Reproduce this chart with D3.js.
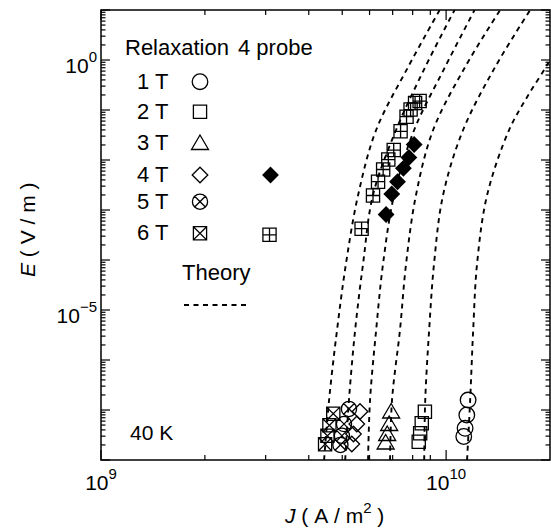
<!DOCTYPE html>
<html><head><meta charset="utf-8">
<script src="https://cdn.jsdelivr.net/npm/d3@7"></script>
<style>
body{margin:0;background:#fff}
svg{display:block}
text{font-family:"Liberation Sans",Arial,Helvetica,sans-serif;fill:#000}
</style>
</head><body>
<svg id="chart" width="551" height="528"></svg>
<script>
// ---------- data (J in A/m^2, E in V/m) ----------
const relaxJ_1T = [1.158e10, 1.148e10, 1.135e10, 1.125e10];
const relaxE_1T = [1.58e-7, 7.94e-8, 4.3e-8, 2.95e-8];
const relaxJ_2T = [8.68e9, 8.50e9, 8.41e9, 8.33e9];
const relaxE_2T = [9.25e-8, 5.42e-8, 3.42e-8, 2.32e-8];
const relaxJ_3T = [6.93e9, 6.84e9, 6.75e9, 6.68e9];
const relaxE_3T = [9.33e-8, 5.25e-8, 3.31e-8, 2.24e-8];
const relaxJ_4T = [5.63e9, 5.51e9, 5.39e9, 5.33e9];
const relaxE_4T = [9.33e-8, 5.25e-8, 3.31e-8, 2.09e-8];
const relaxJ_5T = [5.23e9, 5.06e9, 4.99e9, 4.94e9];
const relaxE_5T = [1.05e-7, 5.25e-8, 3.05e-8, 2.0e-8];
const relaxJ_6T = [4.71e9, 4.59e9, 4.53e9, 4.46e9];
const relaxE_6T = [8.43e-8, 4.94e-8, 3.05e-8, 2.07e-8];

const probeJ_4T = [6.70e9, 6.96e9, 7.23e9, 7.52e9, 7.80e9, 8.08e9];
const probeE_4T = [8.13e-4, 2.09e-3, 3.68e-3, 6.82e-3, 1.12e-2, 2.04e-2];
const probeJ_6T = [5.69e9, 6.14e9, 6.35e9, 6.57e9, 6.80e9, 7.05e9, 7.38e9, 7.68e9, 7.89e9, 8.13e9, 8.38e9];
const probeE_6T = [4.23e-4, 1.95e-3, 3.68e-3, 6.46e-3, 1.02e-2, 1.58e-2, 3.75e-2, 7.35e-2, 0.102, 0.138, 0.151];

const theoryE = [1e-8, 1.58e-7, 3.98e-6, 8.7e-5, 2.0e-3, 3.98e-2, 0.724, 10];
const theoryJ_1 = [4.43e9, 4.58e9, 4.83e9, 5.13e9, 5.56e9, 6.27e9, 7.76e9, 9.58e9];
const theoryJ_2 = [5.10e9, 5.23e9, 5.45e9, 5.75e9, 6.14e9, 7.16e9, 8.70e9, 1.058e10];
const theoryJ_3 = [5.94e9, 6.02e9, 6.27e9, 6.57e9, 7.07e9, 8.08e9, 9.93e9, 1.209e10];
const theoryJ_4 = [6.88e9, 6.97e9, 7.35e9, 7.66e9, 8.18e9, 9.17e9, 1.135e10, 1.434e10];
const theoryJ_5 = [8.64e9, 8.70e9, 8.93e9, 9.23e9, 9.80e9, 1.12e10, 1.387e10, 1.752e10];
const theoryE_6 = [1e-8, 1.58e-7, 3.98e-6, 8.7e-5, 2.0e-3, 3.98e-2, 0.182, 0.87, 2.51];
const theoryJ_6 = [1.150e10, 1.174e10, 1.198e10, 1.230e10, 1.315e10, 1.522e10, 1.717e10, 1.976e10, 2.14e10];

const xMajorTicks = [1e9, 1e10];
const xMinorTicks = [2e9, 3e9, 4e9, 5e9, 6e9, 7e9, 8e9, 9e9];
const xTickLabels = [{base: "10", exp: "9", v: 1e9}, {base: "10", exp: "10", v: 1e10}];
const yDecades = [1e-8, 1e-7, 1e-6, 1e-5, 1e-4, 1e-3, 1e-2, 1e-1, 1e0, 1e1];
const yTickLabels = [{base: "10", exp: "0", v: 1e0}, {base: "10", exp: "\u22125", v: 1e-5}];
const legendFields = ["1 T", "2 T", "3 T", "4 T", "5 T", "6 T"];

// ---------- layout ----------
const L = 101, R = 550, T = 10, B = 460;
const svg = d3.select("#chart");
const x = d3.scaleLog().domain([1e9, 2e10]).range([L, R]);
const y = d3.scaleLog().domain([1e-8, 10]).range([B, T]);
const FS = 22;

// ---------- shapes ----------
function shape(type) {
  const r = 7.5, h = 6.6, d = 7.8, k = 0.7071;
  const circ = (rr) => `M${rr},0A${rr},${rr} 0 1 1 ${-rr},0A${rr},${rr} 0 1 1 ${rr},0Z`;
  const sq = (hh) => `M${-hh},${-hh}H${hh}V${hh}H${-hh}Z`;
  switch (type) {
    case "circle": return circ(r + 0.3);
    case "square": return sq(h);
    case "triangle": return "M0,-8L8.5,6.5L-8.5,6.5Z";
    case "diamond": return `M0,${-d}L${d},0L0,${d}L${-d},0Z`;
    case "circleX": { const rr = 7.6, a = rr * k; return circ(rr) + `M${-a},${-a}L${a},${a}M${a},${-a}L${-a},${a}`; }
    case "squareX": return sq(h) + `M${-h},${-h}L${h},${h}M${h},${-h}L${-h},${h}`;
    case "squarePlus": return sq(h) + `M0,${-h}V${h}M${-h},0H${h}`;
    case "diamondFill": return `M0,-7.5L7.5,0L0,7.5L-7.5,0Z`;
  }
}

const series = [
  {J: relaxJ_1T, E: relaxE_1T, sym: "circle"},
  {J: relaxJ_2T, E: relaxE_2T, sym: "square"},
  {J: relaxJ_3T, E: relaxE_3T, sym: "triangle"},
  {J: relaxJ_4T, E: relaxE_4T, sym: "diamond"},
  {J: relaxJ_5T, E: relaxE_5T, sym: "circleX"},
  {J: relaxJ_6T, E: relaxE_6T, sym: "squareX"},
  {J: probeJ_6T, E: probeE_6T, sym: "squarePlus"},
  {J: probeJ_4T, E: probeE_4T, sym: "diamondFill"}
];
const theory = [
  {J: theoryJ_1, E: theoryE}, {J: theoryJ_2, E: theoryE}, {J: theoryJ_3, E: theoryE},
  {J: theoryJ_4, E: theoryE}, {J: theoryJ_5, E: theoryE}, {J: theoryJ_6, E: theoryE_6}
];

// clip
svg.append("defs").append("clipPath").attr("id", "plotclip")
  .append("rect").attr("x", L).attr("y", T).attr("width", R - L).attr("height", B - T);

// ---------- theory curves ----------
const line = d3.line().x(d => x(d[0])).y(d => y(d[1])).curve(d3.curveCatmullRom.alpha(0.5));
svg.append("g").attr("clip-path", "url(#plotclip)")
  .selectAll("path").data(theory).join("path")
  .attr("d", c => line(c.J.map((j, i) => [j, c.E[i]])))
  .attr("fill", "none").attr("stroke", "#000").attr("stroke-width", 1.9)
  .attr("stroke-dasharray", "5,4.5");

// ---------- markers ----------
const mg = svg.append("g");
series.forEach(s => {
  mg.append("g").selectAll("path").data(s.J.map((j, i) => [j, s.E[i]])).join("path")
    .attr("transform", d => `translate(${x(d[0])},${y(d[1])})`)
    .attr("d", shape(s.sym))
    .attr("fill", s.sym === "diamondFill" ? "#000" : "none")
    .attr("stroke", "#000").attr("stroke-width", 1.3);
});

// ---------- frame & ticks ----------
const ax = svg.append("g").attr("stroke", "#000").attr("stroke-width", 1.2);
xMajorTicks.forEach(v => {
  ax.append("line").attr("x1", x(v)).attr("x2", x(v)).attr("y1", B).attr("y2", B - 10);
  ax.append("line").attr("x1", x(v)).attr("x2", x(v)).attr("y1", T).attr("y2", T + 10);
});
const xMinAll = xMinorTicks.concat(xMinorTicks.map(v => v * 10)).filter(v => v < 2e10);
xMinAll.forEach(v => {
  ax.append("line").attr("x1", x(v)).attr("x2", x(v)).attr("y1", B).attr("y2", B - 5);
  ax.append("line").attr("x1", x(v)).attr("x2", x(v)).attr("y1", T).attr("y2", T + 5);
});
yDecades.forEach(v => {
  ax.append("line").attr("x1", L).attr("x2", L + 9).attr("y1", y(v)).attr("y2", y(v));
  ax.append("line").attr("x1", R).attr("x2", R - 9).attr("y1", y(v)).attr("y2", y(v));
  if (v < 10) {
    for (let m = 2; m <= 9; m++) {
      const t = v * m;
      ax.append("line").attr("x1", L).attr("x2", L + 4.5).attr("y1", y(t)).attr("y2", y(t));
      ax.append("line").attr("x1", R).attr("x2", R - 4.5).attr("y1", y(t)).attr("y2", y(t));
    }
  }
});
svg.append("rect").attr("x", L).attr("y", T).attr("width", R - L).attr("height", B - T)
  .attr("fill", "none").attr("stroke", "#000").attr("stroke-width", 1.5);

// ---------- tick labels ----------
xTickLabels.forEach(t => {
  const tx = svg.append("text").attr("x", x(t.v)).attr("y", B + 30).attr("text-anchor", "middle").attr("font-size", FS - 1);
  tx.append("tspan").text(t.base);
  tx.append("tspan").attr("dy", -11).attr("font-size", 15).text(t.exp);
});
yTickLabels.forEach(t => {
  const tx = svg.append("text").attr("x", L - 4).attr("y", y(t.v) + 12.5).attr("text-anchor", "end").attr("font-size", FS - 1);
  tx.append("tspan").text(t.base);
  tx.append("tspan").attr("dy", -11).attr("font-size", 15).text(t.exp);
});

// ---------- axis titles ----------
const xt = svg.append("text").attr("x", 285).attr("y", 523).attr("font-size", FS - 1);
xt.append("tspan").attr("font-style", "italic").text("J");
xt.append("tspan").text("\u00a0(\u00a0A\u00a0/\u00a0m");
xt.append("tspan").attr("dy", -10).attr("font-size", 15).text("2");
xt.append("tspan").attr("dy", 10).text("\u00a0)");

const yt = svg.append("text").attr("transform", "translate(35,277) rotate(-90)").attr("font-size", FS - 1);
yt.append("tspan").attr("font-style", "italic").text("E");
yt.append("tspan").text("\u00a0(\u00a0V\u00a0/\u00a0m\u00a0)");

// ---------- legend ----------
const lg = svg.append("g");
const rel = lg.append("text").attr("x", 125).attr("y", 55).attr("font-size", FS);
rel.append("tspan").text("Relaxation");
rel.append("tspan").attr("x", 238).text("4 probe");
const rowText = [89, 119, 150, 182, 209, 240];
const rowSym = [81.7, 111.7, 143, 175, 201.7, 233.3];
const col1 = ["circle", "square", "triangle", "diamond", "circleX", "squareX"];
legendFields.forEach((f, i) => {
  lg.append("text").attr("x", 137).attr("y", rowText[i]).attr("font-size", FS).text(f);
  lg.append("path").attr("transform", `translate(200,${rowSym[i]})`).attr("d", shape(col1[i]))
    .attr("fill", "none").attr("stroke", "#000").attr("stroke-width", 1.3);
});
lg.append("path").attr("transform", `translate(270.5,${rowSym[3]})`).attr("d", shape("diamondFill"))
  .attr("fill", "#000").attr("stroke", "#000").attr("stroke-width", 1.3);
lg.append("path").attr("transform", `translate(269.5,${rowSym[5] + 1.5})`).attr("d", shape("squarePlus"))
  .attr("fill", "none").attr("stroke", "#000").attr("stroke-width", 1.3);
lg.append("text").attr("x", 182).attr("y", 280).attr("font-size", FS).text("Theory");
lg.append("line").attr("x1", 184).attr("x2", 248).attr("y1", 305).attr("y2", 305)
  .attr("stroke", "#000").attr("stroke-width", 1.9).attr("stroke-dasharray", "5,4.5");

svg.append("text").attr("x", 130).attr("y", 440).attr("font-size", FS - 1).text("40 K");
</script>
</body></html>
